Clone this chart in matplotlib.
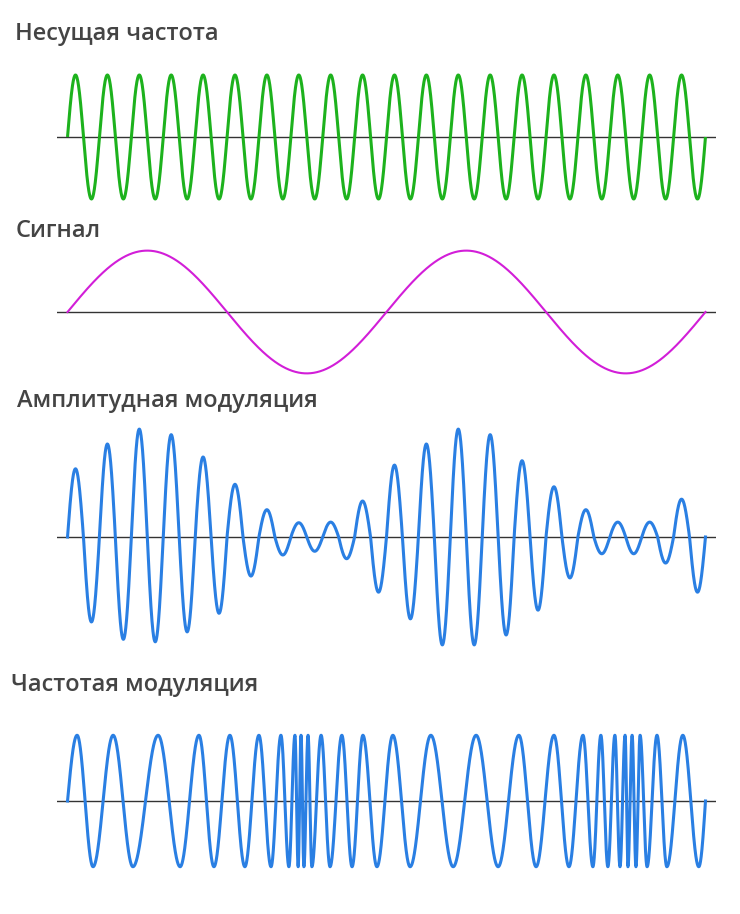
import numpy as np
import matplotlib
matplotlib.use("Agg")
import matplotlib.pyplot as plt

# ---------------- data (time in carrier periods, amplitude in carrier units) ----------------
titles = ["Несущая частота", "Сигнал", "Амплитудная модуляция", "Частотая модуляция"]

duration = 20.0          # carrier periods shown
carrier_cycles = 20
carrier_amp = 1.0
signal_cycles = 2
signal_amp = 0.99

# AM: positive and negative envelope extremes read per carrier cycle
am_peaks = [1.10, 1.50, 1.74, 1.65, 1.29, 0.85, 0.44, 0.23, 0.24, 0.58,
            1.16, 1.50, 1.74, 1.65, 1.23, 0.81, 0.44, 0.24, 0.24, 0.61]
am_troughs = [1.37, 1.65, 1.69, 1.53, 1.23, 0.63, 0.29, 0.23, 0.35, 0.89,
              1.32, 1.74, 1.74, 1.58, 1.18, 0.66, 0.27, 0.27, 0.42, 0.89]

# FM: times of successive extrema (peak, trough, peak, ...)
fm_extrema_t = [0.30, 0.80, 1.43, 2.05, 2.84, 3.53, 4.12, 4.59, 5.09, 5.56,
                6.00, 6.38, 6.69, 6.94, 7.13, 7.23, 7.32, 7.41, 7.54, 7.66,
                7.95, 8.23, 8.60, 8.92, 9.26, 9.70, 10.20, 10.74, 11.39, 12.09,
                12.81, 13.50, 14.15, 14.69, 15.25, 15.72, 16.16, 16.47, 16.72, 16.94,
                17.16, 17.32, 17.48, 17.57, 17.70, 17.82, 17.95, 18.17, 18.48, 18.79,
                19.29, 19.79]
fm_amp = 1.06

# ---------------- helpers ----------------
def quarter_wave_curve(nodes, n=60):
    """nodes alternate zero-crossings and extrema; join by quarter-sine arcs."""
    ts, vs = [], []
    for (t0, v0), (t1, v1) in zip(nodes[:-1], nodes[1:]):
        u = np.linspace(0, 1, n)
        t = t0 + (t1 - t0) * u
        if v0 == 0:
            v = v1 * np.sin(np.pi / 2 * u)
        else:
            v = v0 * np.cos(np.pi / 2 * u)
        ts.append(t)
        vs.append(v)
    return np.concatenate(ts), np.concatenate(vs)

W, H = 740, 914
fig = plt.figure(figsize=(W / 100, H / 100), dpi=100)
fig.patch.set_facecolor("white")

SCALE = 62.0   # px per amplitude unit
LEFT_PX, RIGHT_PX = 57, 716
XMIN, XMAX = -0.33, 20.33


def make_ax(center_px):
    half = 2.0
    bottom = 1 - (center_px + half * SCALE) / H
    ax = fig.add_axes([LEFT_PX / W, bottom, (RIGHT_PX - LEFT_PX) / W, 2 * half * SCALE / H])
    ax.set_xlim(XMIN, XMAX)
    ax.set_ylim(-half, half)
    ax.set_axis_off()
    ax.axhline(0, color="#333333", lw=1.0, zorder=1)
    return ax

title_pos = [(15, 40), (16, 237), (17, 407), (11, 691)]
centers = [137, 312, 537, 801]

for (tx, ty), txt in zip(title_pos, titles):
    fig.text(tx / W, 1 - ty / H, txt, ha="left", va="baseline",
             fontsize=17, color="#444444", family=["Open Sans", "DejaVu Sans"],
             weight="semibold")

# Carrier
ax = make_ax(centers[0])
t = np.linspace(0, duration, 4000)
ax.plot(t, carrier_amp * np.sin(2 * np.pi * carrier_cycles * t / duration),
        color="#1db21d", lw=2.2, clip_on=False, zorder=2, solid_capstyle="butt")

# Signal
ax = make_ax(centers[1])
ax.plot(t, signal_amp * np.sin(2 * np.pi * signal_cycles * t / duration),
        color="#d21ed8", lw=1.5, clip_on=False, zorder=2)

# AM
ax = make_ax(centers[2])
nodes = [(0.0, 0.0)]
for k, (p, q) in enumerate(zip(am_peaks, am_troughs)):
    nodes += [(k + 0.25, p), (k + 0.5, 0.0), (k + 0.75, -q), (k + 1.0, 0.0)]
tt, vv = quarter_wave_curve(nodes)
ax.plot(tt, vv, color="#2a7fe3", lw=2.2, clip_on=False, zorder=2)

# FM
ax = make_ax(centers[3])
nodes = [(0.0, 0.0)]
sign = 1
prev = 0.0
for i, te in enumerate(fm_extrema_t):
    if i > 0:
        nodes.append(((prev + te) / 2, 0.0))
    nodes.append((te, sign * fm_amp))
    sign = -sign
    prev = te
nodes.append((duration, 0.0))
tt, vv = quarter_wave_curve(nodes)
ax.plot(tt, vv, color="#2a7fe3", lw=2.2, clip_on=False, zorder=2)

fig.savefig("out.png", dpi=100, facecolor="white")
